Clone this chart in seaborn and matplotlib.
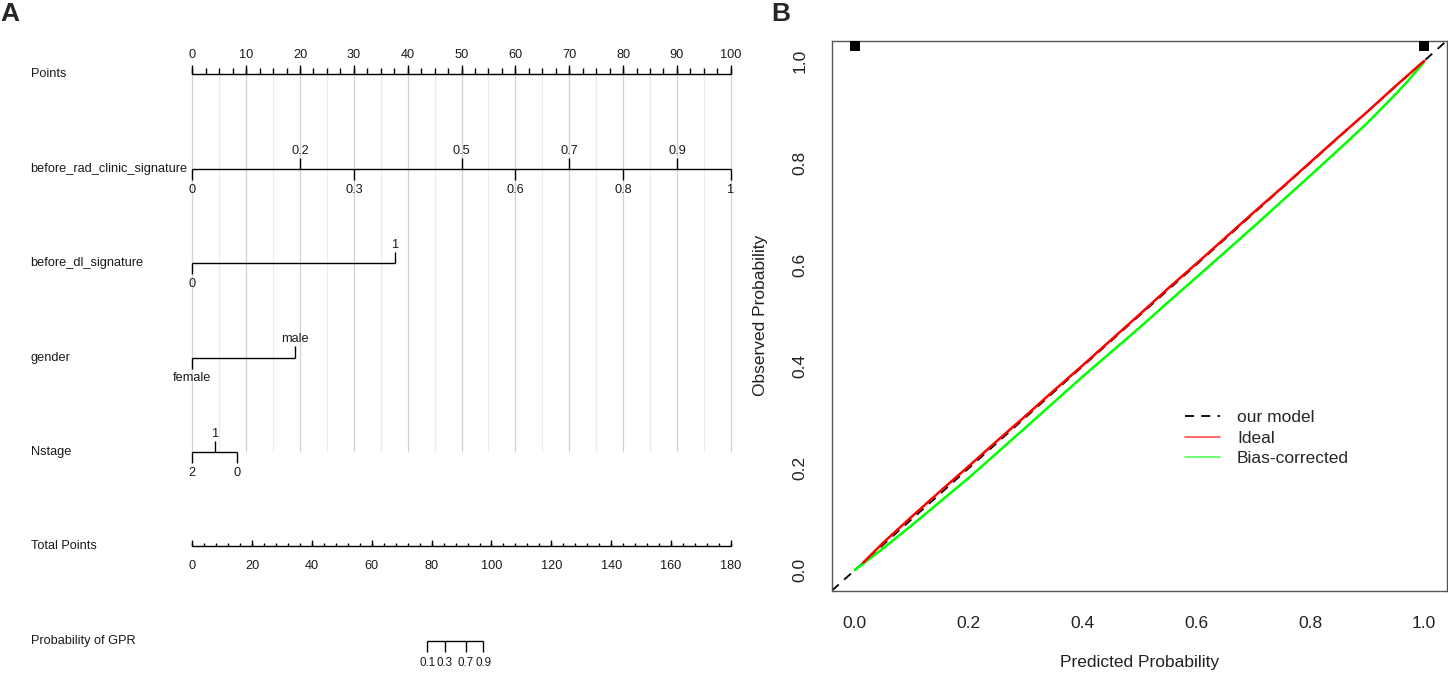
import matplotlib
matplotlib.use("Agg")
import matplotlib.pyplot as plt
from matplotlib.lines import Line2D
import pandas as pd
import seaborn as sns

# ---- panel A : nomogram values (points scale 0-100) ----
row_labels = ["Points", "before_rad_clinic_signature", "before_dl_signature",
              "gender", "Nstage", "Total Points", "Probability of GPR"]

rad_labels = ["0", "0.2", "0.3", "0.5", "0.6", "0.7", "0.8", "0.9", "1"]
rad_points = [0, 20, 30, 50, 60, 70, 80, 90, 100]
rad_side = [-1, 1, -1, 1, -1, 1, -1, 1, -1]

dl_labels = ["0", "1"]
dl_points = [0, 37.7]
dl_side = [-1, 1]

gender_labels = ["female", "male"]
gender_points = [0, 19.1]
gender_side = [-1, 1]

nstage_labels = ["2", "1", "0"]
nstage_points = [0, 4.3, 8.3]
nstage_side = [-1, 1, -1]

total_max = 180
prob_labels = ["0.1", "0.3", "0.7", "0.9"]
prob_total = [78.6, 84.4, 91.5, 97.2]

# ---- panel B : calibration curves ----
ideal_x = [0.015, 0.05, 0.1, 0.15, 0.2, 0.25, 0.3, 0.35, 0.4, 0.45, 0.5, 0.55,
           0.6, 0.65, 0.7, 0.75, 0.8, 0.85, 0.9, 0.95, 1.0]
ideal_y = [0.015, 0.054, 0.105, 0.155, 0.204, 0.254, 0.303, 0.353, 0.402, 0.452,
           0.502, 0.553, 0.602, 0.652, 0.702, 0.751, 0.801, 0.851, 0.9, 0.951, 1.0]
bias_x = [0.0, 0.05, 0.1, 0.2, 0.3, 0.4, 0.5, 0.55, 0.6, 0.7, 0.8, 0.85, 0.9,
          0.95, 0.97, 1.0]
bias_y = [0.0, 0.043, 0.088, 0.181, 0.28, 0.38, 0.476, 0.526, 0.575, 0.674,
          0.775, 0.826, 0.878, 0.935, 0.959, 0.998]
rug_x = [0.0, 1.0]
rug_h = [0.02, 0.02]

sns.set_theme(style="white")
plt.rcParams["font.family"] = ["Liberation Sans", "DejaVu Sans"]

W, H = 1448, 675
fig = plt.figure(figsize=(W / 100, H / 100), dpi=100)

# left axes in "points" units horizontally, row index vertically
x0_px, ppp = 192.3, 5.385        # pixel of 0 points, pixels per point
row0_px, row_px = 74.3, 94.4
axL = fig.add_axes([0, 0, 740 / W, 1])
axL.set_xlim(-x0_px / ppp, (740 - x0_px) / ppp)
axL.set_ylim((H - row0_px) / row_px, -row0_px / row_px)
axL.axis("off")


def dy(px):
    return px / row_px


fs = 9.2
ink = "#1a1a1a"
# grid
for v in range(0, 101, 5):
    col = "#d2d2d2" if v % 10 == 0 else "#ececec"
    axL.vlines(v, 0, 4, color=col, lw=0.9, zorder=0)

for i, lab in enumerate(row_labels):
    axL.text((30.6 - x0_px) / ppp, i, lab, ha="left", va="center",
             fontsize=fs, color=ink)

# Points axis
axL.hlines(0, 0, 100, color="black", lw=1)
axL.vlines([i * 2.5 for i in range(41)], 0, -dy(6), color="black", lw=1)
axL.vlines(range(0, 101, 10), 0, -dy(9), color="black", lw=1)
for v in range(0, 101, 10):
    axL.text(v, -dy(19), str(v), ha="center", va="center", fontsize=fs, color=ink)


def cat_row(row, pts, labels, side):
    axL.hlines(row, min(pts), max(pts), color="black", lw=1)
    for p, lab, s in zip(pts, labels, side):
        axL.vlines(p, row, row - s * dy(11), color="black", lw=1)
        off = 18 if s > 0 else 21
        axL.text(p, row - s * dy(off), lab, ha="center", va="center",
                 fontsize=fs, color=ink)


cat_row(1, rad_points, rad_labels, rad_side)
cat_row(2, dl_points, dl_labels, dl_side)
cat_row(3, gender_points, gender_labels, gender_side)
cat_row(4, nstage_points, nstage_labels, nstage_side)

# Total points axis
scale = 100 / total_max
axL.hlines(5, 0, 100, color="black", lw=1)
axL.vlines([t * scale for t in range(0, total_max + 1, 4)], 5, 5 - dy(3.5), color="black", lw=1)
axL.vlines([t * scale for t in range(0, total_max + 1, 20)], 5, 5 - dy(6.5), color="black", lw=1)
for t in range(0, total_max + 1, 20):
    axL.text(t * scale, 5 + dy(20), str(t), ha="center", va="center", fontsize=fs, color=ink)

# Probability axis
pp = [t * scale for t in prob_total]
axL.hlines(6, min(pp), max(pp), color="black", lw=1)
axL.vlines(pp, 6, 6 + dy(11.5), color="black", lw=1)
for p, lab in zip(pp, prob_labels):
    axL.text(p, 6 + dy(22), lab, ha="center", va="center", fontsize=8.4, color=ink)

# ---- panel B ----
axR = fig.add_axes([832 / W, (H - 590.5) / H, 615 / W, 550 / H])
axR.set_xlim(-0.04, 1.04)
axR.set_ylim(-0.04, 1.04)
axR.axline((0, 0), slope=1, color="black", lw=1.3, ls=(0, (5, 4)), zorder=1)
df_ideal = pd.DataFrame({"pred": ideal_x, "obs": ideal_y})
df_bias = pd.DataFrame({"pred": bias_x, "obs": bias_y})
sns.lineplot(data=df_ideal, x="pred", y="obs", ax=axR, color="#ff0000", lw=1.8,
             estimator=None, sort=False, zorder=3)
sns.lineplot(data=df_bias, x="pred", y="obs", ax=axR, color="#00ff00", lw=1.8,
             estimator=None, sort=False, zorder=2)
axR.vlines(rug_x, [1.04 - h for h in rug_h], 1.04, color="black", lw=7.2, zorder=4)

ticks = [0, 0.2, 0.4, 0.6, 0.8, 1.0]
axR.set_xticks(ticks)
axR.set_xticklabels([f"{t:.1f}" for t in ticks])
axR.set_yticks(ticks)
axR.set_yticklabels([f"{t:.1f}" for t in ticks], rotation=90, va="center")
axR.tick_params(axis="both", direction="out", length=8.5, width=1, color="#555555",
                labelsize=12.5, labelcolor="#222222")
axR.tick_params(axis="x", pad=10)
axR.tick_params(axis="y", pad=9)
for sp in axR.spines.values():
    sp.set_color("#555555")
    sp.set_linewidth(1)
axR.set_xlabel("Predicted Probability", fontsize=12.5, color="#222222")
axR.set_ylabel("Observed Probability", fontsize=12.5, color="#222222")
axR.xaxis.set_label_coords(0.5, -0.117)
axR.yaxis.set_label_coords(-0.104, 0.5)

handles = [Line2D([], [], color="black", lw=1.3, ls=(0, (5, 4))),
           Line2D([], [], color="#ff5050", lw=1.2),
           Line2D([], [], color="#50ff50", lw=1.2)]
axR.legend(handles, ["our model", "Ideal", "Bias-corrected"], loc="upper left",
           bbox_to_anchor=(0.574, 0.328), frameon=False, fontsize=12.5,
           handlelength=2.0, handletextpad=1.0, labelspacing=0.3, borderpad=0,
           borderaxespad=0)

fig.text(0.5 / W, 1 - 2 / H, "A", ha="left", va="top", fontsize=19, fontweight="bold")
fig.text(771 / W, 1 - 2 / H, "B", ha="left", va="top", fontsize=19, fontweight="bold")

fig.savefig("out.png", dpi=100)
